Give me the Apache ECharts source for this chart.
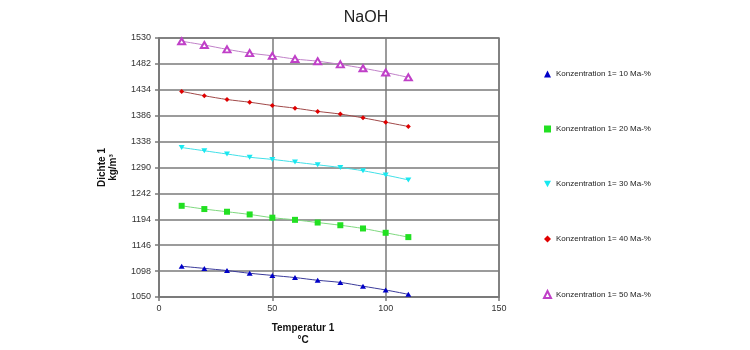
<!DOCTYPE html>
<html>
<head>
<meta charset="utf-8">
<script src="https://cdn.jsdelivr.net/npm/echarts@6/dist/echarts.min.js"></script>
<style>
  html, body { margin: 0; padding: 0; background: #fff; }
  #chart { width: 750px; height: 350px; }
</style>
</head>
<body>
<div id="chart"></div>
<script>
// Temperatur in °C
const temps = [10, 20, 30, 40, 50, 60, 70, 80, 90, 100, 110]

// Dichte in kg/m³ je Konzentration
const dichte10 = [1107, 1103, 1099, 1094, 1090, 1086, 1081, 1077, 1070, 1063, 1055]
const dichte20 = [1219, 1213, 1208, 1203, 1197, 1193, 1188, 1183, 1177, 1169, 1161]
const dichte30 = [1327, 1321, 1315, 1309, 1305, 1300, 1295, 1290, 1284, 1276, 1267]
const dichte40 = [1431, 1423, 1416, 1411, 1405, 1400, 1394, 1389, 1382, 1374, 1366]
const dichte50 = [1524, 1517, 1509, 1502, 1497, 1491, 1487, 1481, 1474, 1466, 1457]

const seriesNames = [
  'Konzentration 1= 10 Ma-%',
  'Konzentration 1= 20 Ma-%',
  'Konzentration 1= 30 Ma-%',
  'Konzentration 1= 40 Ma-%',
  'Konzentration 1= 50 Ma-%'
]
// Dreieck nach unten als Pfad, damit es auch in der Legende stimmt
const symbols = ['triangle', 'rect', 'path://M0,0L10,0L5,9Z', 'diamond', 'emptyTriangle']

const yTicks = [1050, 1098, 1146, 1194, 1242, 1290, 1338, 1386, 1434, 1482, 1530]

const chart = echarts.init(document.getElementById('chart'))

function pairs(values) {
  return temps.map(function (t, i) {
    return [t, values[i]]
  })
}

function makeSeries(idx, values, size, markerColor, lineColor, border) {
  return {
    name: seriesNames[idx],
    type: 'line',
    smooth: 0.3,
    data: pairs(values),
    symbol: symbols[idx],
    symbolSize: size,
    showAllSymbol: true,
    itemStyle: { color: markerColor, borderColor: markerColor, borderWidth: border },
    lineStyle: { color: lineColor, width: 1 },
    emphasis: { disabled: true },
    z: 3
  }
}

const gridColor = '#7a7a7a'

const options = {
  animation: false,
  textStyle: { fontFamily: 'Liberation Sans, Arial, sans-serif' },
  title: {
    text: 'NaOH',
    left: 361,
    top: 5,
    textAlign: 'center',
    textStyle: { fontSize: 16, fontWeight: 'normal', color: '#222' }
  },
  grid: {
    left: 159,
    right: 251,
    top: 38,
    bottom: 53,
    show: true,
    borderColor: gridColor,
    borderWidth: 1.5
  },
  legend: {
    orient: 'vertical',
    left: 538,
    top: 65,
    itemWidth: 7,
    itemHeight: 7,
    itemGap: 47,
    textStyle: { fontSize: 8, color: '#222' },
    data: seriesNames.map(function (n, i) {
      return { name: n, icon: symbols[i] }
    })
  },
  xAxis: {
    type: 'value',
    min: 0,
    max: 150,
    interval: 50,
    axisLine: { show: true, lineStyle: { color: gridColor, width: 1.5 } },
    axisTick: { show: true, length: 4, lineStyle: { color: gridColor, width: 1.5 } },
    axisLabel: { fontSize: 9, color: '#333', margin: 7 },
    splitLine: { show: true, lineStyle: { color: gridColor, width: 1.5 } }
  },
  yAxis: {
    type: 'value',
    min: 1050,
    max: 1530,
    name: 'Dichte 1\nkg/m³',
    nameLocation: 'middle',
    nameGap: 40,
    nameTextStyle: { fontSize: 10, fontWeight: 'bold', color: '#111', lineHeight: 11 },
    axisLine: { show: true, lineStyle: { color: gridColor, width: 1.5 } },
    axisTick: { show: true, length: 4, customValues: yTicks, lineStyle: { color: gridColor, width: 1.5 } },
    axisLabel: {
      fontSize: 9,
      color: '#333',
      margin: 8,
      customValues: yTicks,
      formatter: function (v) { return String(v) }
    },
    splitLine: { show: true, lineStyle: { color: gridColor, width: 1.5 } }
  },
  graphic: [{
    type: 'text',
    x: 303,
    y: 322,
    style: {
      text: 'Temperatur 1\n°C',
      align: 'center',
      verticalAlign: 'top',
      fontSize: 10,
      fontWeight: 'bold',
      fill: '#111',
      lineHeight: 12,
      fontFamily: 'Liberation Sans, Arial, sans-serif'
    }
  }],
  series: [
    makeSeries(0, dichte10, [6, 5], '#0000c8', '#3a3a9a', 0),
    makeSeries(1, dichte20, 6, '#22e022', '#7ed87e', 0),
    makeSeries(2, dichte30, [6, 5], '#18e8f0', '#40e0e8', 0),
    makeSeries(3, dichte40, 5, '#e00000', '#a04848', 0),
    makeSeries(4, dichte50, [7, 6], '#c040c8', '#c080c8', 0.8)
  ]
}

chart.setOption(options)
</script>
</body>
</html>
